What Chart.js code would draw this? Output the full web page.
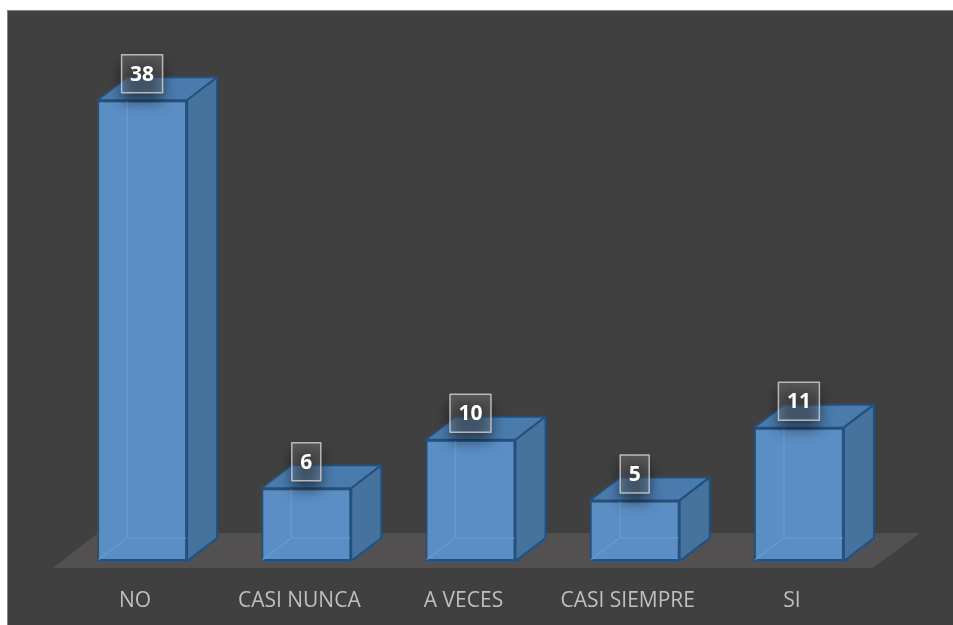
<!DOCTYPE html>
<html>
<head>
<meta charset="utf-8">
<script src="https://cdn.jsdelivr.net/npm/chart.js@4.4.0/dist/chart.umd.min.js"></script>
<style>
  html, body { margin: 0; padding: 0; background: #ffffff; }
  canvas { display: block; }
</style>
</head>
<body>
<canvas id="grafico" width="953" height="625"></canvas>
<script>
// respuestas de la encuesta
const categorias = ["NO", "CASI NUNCA", "A VECES", "CASI SIEMPRE", "SI"];
const valores = [38, 6, 10, 5, 11];
const ejeMin = 0;
const ejeMax = 40;

// profundidad de las cajas 3D
const PROF_X = 30;
const PROF_Y = 23;

const colores = {
  frente: "#5a8ec4",
  lado: "#46729e",
  tapa: "#4a7bad",
  borde: "#24507d",
  oculto: "rgba(110, 165, 220, 0.55)",
  piso: "#525050",
  panel: "#404040",
  marco: "#858585"
};

// fondo blanco con el panel oscuro encima
const fondo = {
  id: "fondo",
  beforeDraw(chart) {
    const ctx = chart.ctx;
    ctx.save();
    ctx.fillStyle = "#ffffff";
    ctx.fillRect(0, 0, chart.width, chart.height);
    ctx.fillStyle = colores.panel;
    ctx.fillRect(7, 10, chart.width - 7, chart.height - 10);
    ctx.strokeStyle = colores.marco;
    ctx.lineWidth = 1;
    ctx.beginPath();
    ctx.moveTo(7.5, chart.height);
    ctx.lineTo(7.5, 10.5);
    ctx.lineTo(chart.width, 10.5);
    ctx.stroke();
    ctx.restore();
  }
};

function poligono(ctx, puntos, relleno, borde) {
  ctx.beginPath();
  ctx.moveTo(puntos[0][0], puntos[0][1]);
  for (let i = 1; i < puntos.length; i++) ctx.lineTo(puntos[i][0], puntos[i][1]);
  ctx.closePath();
  if (relleno) { ctx.fillStyle = relleno; ctx.fill(); }
  if (borde) { ctx.strokeStyle = borde; ctx.stroke(); }
}

const barras3d = {
  id: "barras3d",
  beforeDatasetsDraw(chart) {
    // piso en perspectiva
    const { left, right, bottom } = chart.chartArea;
    const ctx = chart.ctx;
    ctx.save();
    poligono(ctx, [
      [left - 7, bottom + 7],
      [right - 8, bottom + 7],
      [right + 39, bottom - 28],
      [left + 38, bottom - 28]
    ], colores.piso);
    ctx.restore();
  },
  afterDatasetsDraw(chart) {
    const ctx = chart.ctx;
    const meta = chart.getDatasetMeta(0);
    ctx.save();
    ctx.lineJoin = "round";

    meta.data.forEach((barra) => {
      const { x, y, base, width } = barra.getProps(["x", "y", "base", "width"], true);
      const L = x - width / 2;
      const R = x + width / 2;

      // aristas traseras vistas a través de la caja
      ctx.lineWidth = 1.5;
      ctx.strokeStyle = colores.oculto;
      ctx.beginPath();
      ctx.moveTo(L + PROF_X, y - PROF_Y);
      ctx.lineTo(L + PROF_X, base - PROF_Y);
      ctx.lineTo(R + PROF_X, base - PROF_Y);
      ctx.moveTo(L + PROF_X, base - PROF_Y);
      ctx.lineTo(L + 1, base - 1);
      ctx.stroke();

      ctx.lineWidth = 2;
      // tapa
      poligono(ctx, [
        [L, y], [R, y], [R + PROF_X, y - PROF_Y], [L + PROF_X, y - PROF_Y]
      ], colores.tapa, colores.borde);
      // lado derecho
      poligono(ctx, [
        [R, y], [R + PROF_X, y - PROF_Y], [R + PROF_X, base - PROF_Y], [R, base]
      ], colores.lado, colores.borde);
    });

    // etiquetas de valor
    ctx.font = "bold 21px 'Open Sans'";
    ctx.textAlign = "center";
    ctx.textBaseline = "middle";
    meta.data.forEach((barra, i) => {
      const { x, y } = barra.getProps(["x", "y"], true);
      const texto = String(valores[i]);
      const w = ctx.measureText(texto).width + 17;
      const h = 38;
      const cy = y - PROF_Y - 3.5;
      const bx = x - w / 2;
      const by = cy - h / 2;

      // sombra difusa bajo el recuadro
      ctx.save();
      ctx.shadowColor = "rgba(0, 0, 0, 0.55)";
      ctx.shadowBlur = 14;
      ctx.shadowOffsetX = 2000;
      ctx.shadowOffsetY = 8;
      ctx.fillStyle = "#000";
      ctx.fillRect(bx - 2000, by, w, h);
      ctx.restore();

      ctx.fillStyle = "rgba(255, 255, 255, 0.14)";
      ctx.fillRect(bx, by, w, h);
      ctx.lineWidth = 1.5;
      ctx.strokeStyle = "rgba(205, 205, 205, 0.85)";
      ctx.strokeRect(bx, by, w, h);

      ctx.fillStyle = "#ffffff";
      ctx.fillText(texto, x, cy + 1);
    });
    ctx.restore();
  }
};

new Chart(document.getElementById("grafico"), {
  type: "bar",
  data: {
    labels: categorias,
    datasets: [{
      data: valores,
      backgroundColor: colores.frente,
      borderColor: colores.borde,
      borderWidth: 2,
      borderSkipped: false,
      categoryPercentage: 1,
      barPercentage: 0.548
    }]
  },
  options: {
    responsive: false,
    animation: false,
    events: [],
    layout: { padding: { left: 60, right: 72, top: 76, bottom: 0 } },
    plugins: {
      legend: { display: false },
      tooltip: { enabled: false }
    },
    scales: {
      x: {
        grid: { display: false },
        border: { display: false },
        ticks: {
          color: "#bfbfbf",
          font: { family: "'Open Sans'", size: 21 },
          padding: 19,
          labelOffset: -7,
          maxRotation: 0,
          autoSkip: false
        },
        afterFit(scale) { scale.height = 64; }
      },
      y: {
        display: false,
        min: ejeMin,
        max: ejeMax
      }
    }
  },
  plugins: [fondo, barras3d]
});
</script>
</body>
</html>
